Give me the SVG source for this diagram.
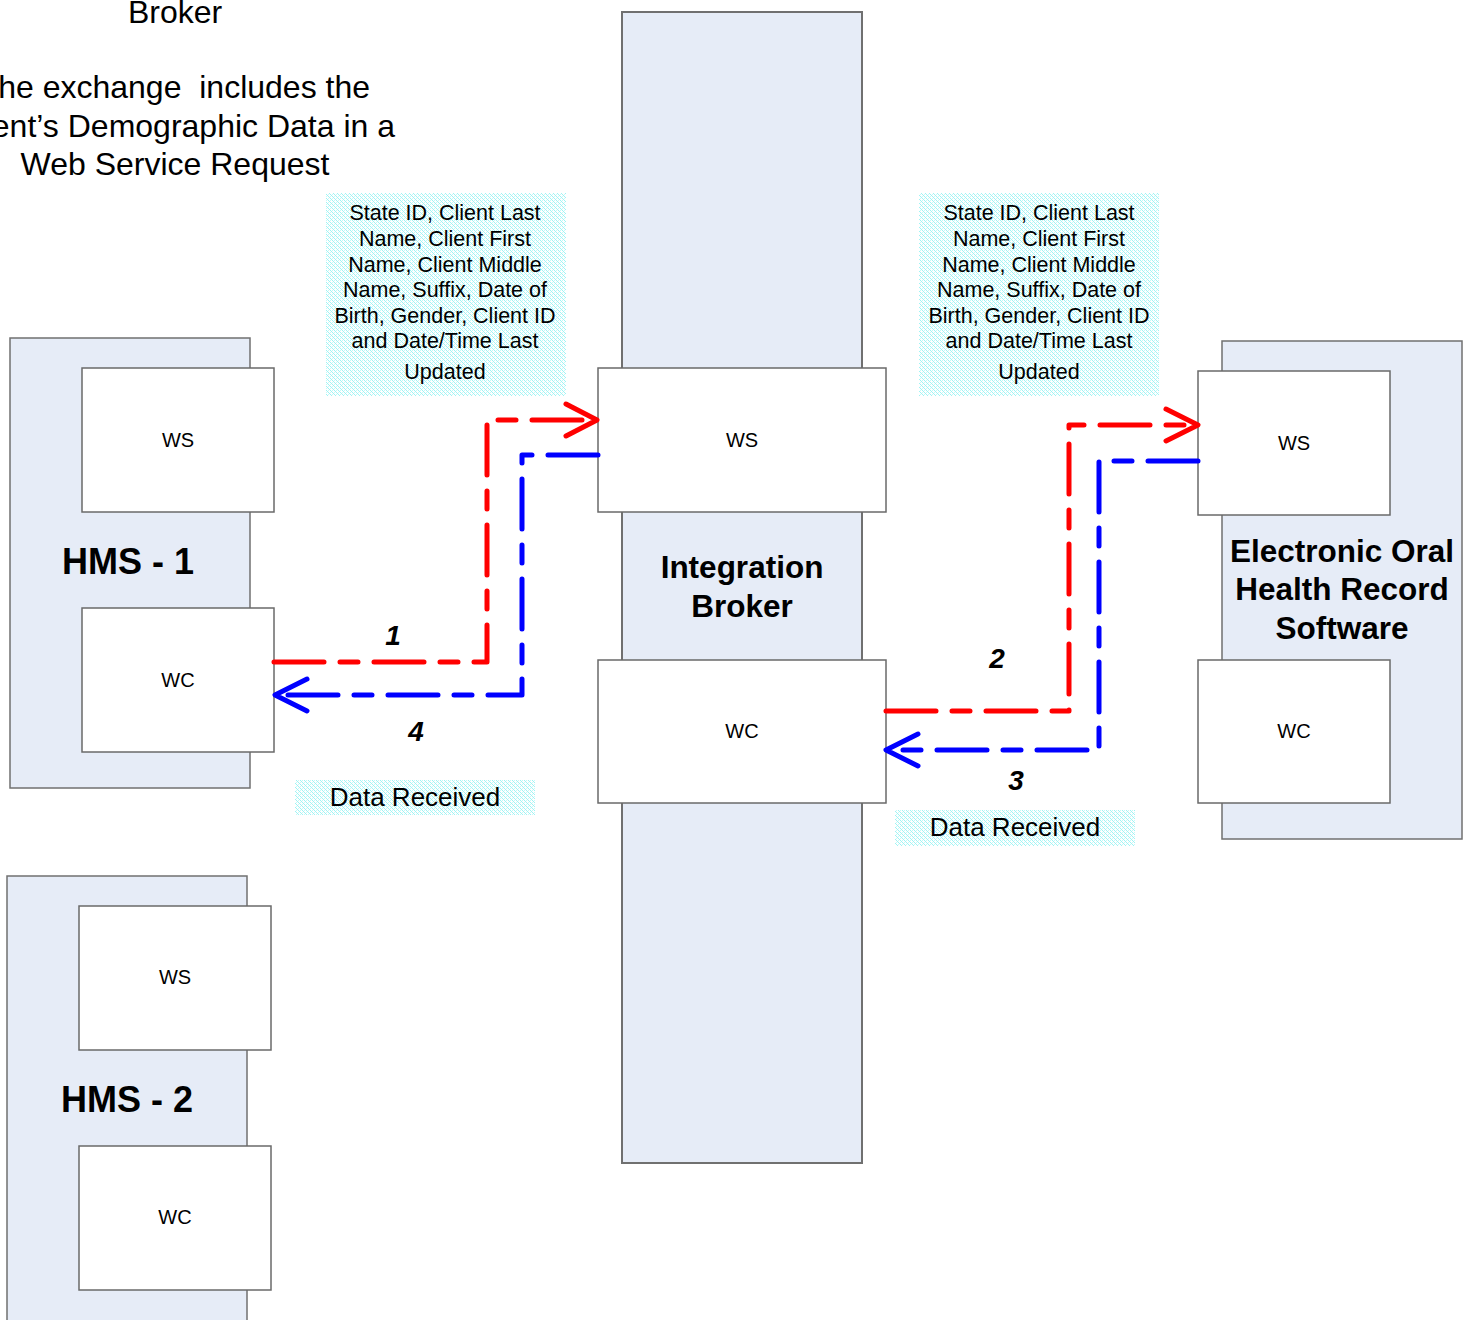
<svg xmlns="http://www.w3.org/2000/svg" width="1470" height="1320" viewBox="0 0 1470 1320">
  <style>
    .sys { fill: #E6ECF7; stroke: #707070; stroke-width: 1.5; }
    .col { fill: #E6ECF7; stroke: #707070; stroke-width: 2; }
    .box { fill: #FFFFFF; stroke: #6A6A6A; stroke-width: 1.5; }
    .note { fill: url(#dots); }
    text { font-family: "Liberation Sans", Arial, sans-serif; fill: #000; }
    .lbl { font-size: 20px; text-anchor: middle; }
    .txt { font-size: 21.5px; text-anchor: middle; }
    .title { font-size: 31.5px; font-weight: bold; text-anchor: middle; }
    .hms { font-size: 36px; font-weight: bold; text-anchor: middle; }
    .num { font-size: 28px; font-weight: bold; font-style: italic; text-anchor: middle; }
    .head { font-size: 32px; white-space: pre; }
    .recv { font-size: 26px; text-anchor: middle; }
    .req { fill: none; stroke: #FF0000; stroke-width: 5; stroke-linecap: round; stroke-linejoin: round; }
    .rsp { fill: none; stroke: #0000FF; stroke-width: 5; stroke-linecap: round; stroke-linejoin: round; }
    .dash { stroke-dasharray: 50 16 18 16; }
  </style>
  <defs>
    <!-- light cyan stipple used behind the payload notes -->
    <pattern id="dots" width="4" height="4" patternUnits="userSpaceOnUse">
      <rect width="4" height="4" fill="#FFFFFF"/>
      <rect x="0" y="0" width="1" height="1" fill="#9FF4F4"/>
      <rect x="2" y="0" width="1" height="1" fill="#C8F8F8"/>
      <rect x="1" y="1" width="1" height="1" fill="#9FF4F4"/>
      <rect x="0" y="2" width="1" height="1" fill="#C8F8F8"/>
      <rect x="2" y="2" width="1" height="1" fill="#9FF4F4"/>
      <rect x="3" y="3" width="1" height="1" fill="#9FF4F4"/>
    </pattern>
  </defs>

  <!-- heading text -->
  <g id="heading">
    <text class="head" x="175" y="23" text-anchor="middle">Broker</text>
    <text class="head" x="370" y="98" text-anchor="end" xml:space="preserve">he exchange  includes the</text>
    <text class="head" x="395" y="137" text-anchor="end">ent’s Demographic Data in a</text>
    <text class="head" x="175" y="175" text-anchor="middle">Web Service Request</text>
  </g>

  <!-- integration broker column -->
  <g id="broker">
    <rect class="col" x="622" y="12" width="240" height="1151"/>
    <text class="title" x="742" y="578">Integration</text>
    <text class="title" x="742" y="617">Broker</text>
    <g id="broker-ws">
      <rect class="box" x="598" y="368" width="288" height="144"/>
      <text class="lbl" x="742" y="447">WS</text>
    </g>
    <g id="broker-wc">
      <rect class="box" x="598" y="660" width="288" height="143"/>
      <text class="lbl" x="742" y="738">WC</text>
    </g>
  </g>

  <!-- HMS 1 -->
  <g id="hms1">
    <rect class="sys" x="10" y="338" width="240" height="450"/>
    <text class="hms" x="128" y="574">HMS - 1</text>
    <g id="hms1-ws">
      <rect class="box" x="82" y="368" width="192" height="144"/>
      <text class="lbl" x="178" y="447">WS</text>
    </g>
    <g id="hms1-wc">
      <rect class="box" x="82" y="608" width="192" height="144"/>
      <text class="lbl" x="178" y="687">WC</text>
    </g>
  </g>

  <!-- HMS 2 -->
  <g id="hms2">
    <rect class="sys" x="7" y="876" width="240" height="460"/>
    <text class="hms" x="127" y="1112">HMS - 2</text>
    <g id="hms2-ws">
      <rect class="box" x="79" y="906" width="192" height="144"/>
      <text class="lbl" x="175" y="984">WS</text>
    </g>
    <g id="hms2-wc">
      <rect class="box" x="79" y="1146" width="192" height="144"/>
      <text class="lbl" x="175" y="1224">WC</text>
    </g>
  </g>

  <!-- electronic oral health record software -->
  <g id="eohr">
    <rect class="sys" x="1222" y="341" width="240" height="498"/>
    <text class="title" x="1342" y="562">Electronic Oral</text>
    <text class="title" x="1342" y="600">Health Record</text>
    <text class="title" x="1342" y="639">Software</text>
    <g id="eohr-ws">
      <rect class="box" x="1198" y="371" width="192" height="144"/>
      <text class="lbl" x="1294" y="450">WS</text>
    </g>
    <g id="eohr-wc">
      <rect class="box" x="1198" y="660" width="192" height="143"/>
      <text class="lbl" x="1294" y="738">WC</text>
    </g>
  </g>

  <!-- payload notes -->
  <g id="note-left">
    <rect class="note" x="326" y="193" width="240" height="203"/>
    <text class="txt" x="445" y="220">State ID, Client Last</text>
    <text class="txt" x="445" y="246">Name, Client First</text>
    <text class="txt" x="445" y="272">Name, Client Middle</text>
    <text class="txt" x="445" y="297">Name, Suffix, Date of</text>
    <text class="txt" x="445" y="323">Birth, Gender, Client ID</text>
    <text class="txt" x="445" y="348">and Date/Time Last</text>
    <text class="txt" x="445" y="379">Updated</text>
  </g>
  <g id="note-right">
    <rect class="note" x="919" y="193" width="240" height="203"/>
    <text class="txt" x="1039" y="220">State ID, Client Last</text>
    <text class="txt" x="1039" y="246">Name, Client First</text>
    <text class="txt" x="1039" y="272">Name, Client Middle</text>
    <text class="txt" x="1039" y="297">Name, Suffix, Date of</text>
    <text class="txt" x="1039" y="323">Birth, Gender, Client ID</text>
    <text class="txt" x="1039" y="348">and Date/Time Last</text>
    <text class="txt" x="1039" y="379">Updated</text>
  </g>
  <g id="recv-left">
    <rect class="note" x="295" y="780" width="240" height="35"/>
    <text class="recv" x="415" y="806">Data Received</text>
  </g>
  <g id="recv-right">
    <rect class="note" x="895" y="810" width="240" height="36"/>
    <text class="recv" x="1015" y="836">Data Received</text>
  </g>

  <!-- message flows -->
  <g id="connectors">
    <!-- 1: HMS-1 WC to broker WS -->
    <path class="req dash" d="M274 662 H487 V420 H596"/>
    <path class="req" d="M566 404 L597 420 L566 436"/>
    <!-- 2: broker WC to EOHR WS -->
    <path class="req dash" d="M886 711 H1069 V425 H1196"/>
    <path class="req" d="M1166 409 L1198 425 L1166 441"/>
    <!-- 3: EOHR WS back to broker WC -->
    <path class="rsp dash" d="M1198 461 H1099 V750 H888"/>
    <path class="rsp" d="M918 734 L886 750 L918 766"/>
    <!-- 4: broker WS back to HMS-1 WC -->
    <path class="rsp dash" d="M598 455 H522 V695 H276"/>
    <path class="rsp" d="M307 679 L275 695 L307 711"/>

    <text class="num" x="393" y="645">1</text>
    <text class="num" x="997" y="668">2</text>
    <text class="num" x="1016" y="790">3</text>
    <text class="num" x="416" y="741">4</text>
  </g>
</svg>
